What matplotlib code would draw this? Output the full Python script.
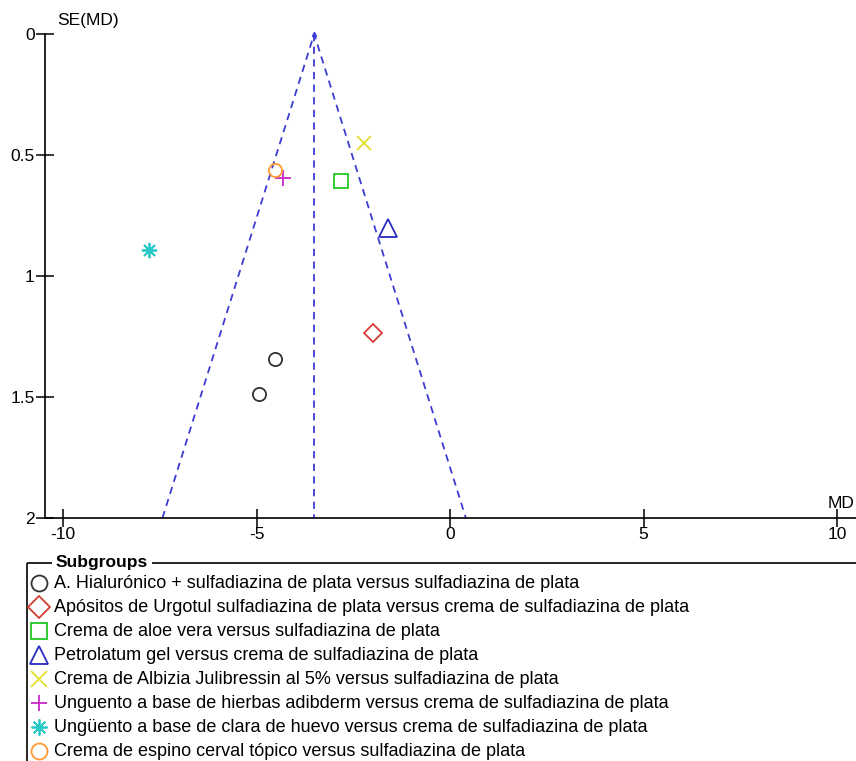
import matplotlib
matplotlib.use("Agg")
import matplotlib.pyplot as plt
from matplotlib.lines import Line2D
from matplotlib.patches import Rectangle

# ── study data: mean difference and its standard error ───────────────────────
groups = [
    "A. Hialurónico + sulfadiazina de plata versus sulfadiazina de plata",
    "Apósitos de Urgotul sulfadiazina de plata versus crema de sulfadiazina de plata",
    "Crema de aloe vera versus sulfadiazina de plata",
    "Petrolatum gel versus crema de sulfadiazina de plata",
    "Crema de Albizia Julibressin al 5% versus sulfadiazina de plata",
    "Unguento a base de hierbas adibderm versus crema de sulfadiazina de plata",
    "Ungüento a base de clara de huevo versus crema de sulfadiazina de plata",
    "Crema de espino cerval tópico versus sulfadiazina de plata",
]
md = [[-4.52, -4.94], [-1.99], [-2.82], [-1.60], [-2.22], [-4.32], [-7.78], [-4.52]]
se = [[1.343, 1.488], [1.236], [0.607], [0.80], [0.45], [0.595], [0.893], [0.562]]

pooled_md = -3.51
se_max = 2.0
x_ticks = [-10, -5, 0, 5, 10]
y_ticks = [0, 0.5, 1, 1.5, 2]
y_ticklabels = ["0", "0.5", "1", "1.5", "2"]

# ── styles ───────────────────────────────────────────────────────────────────
colors = ["#333333", "#D93A3A", "#22C822", "#2B2BC0",
          "#E0E030", "#C828C8", "#28C8C8", "#FF9933"]
markers = ["o", "D", "s", "^", "x", "+", (8, 2, 0), "o"]
msizes = [9.5, 9.5, 9.5, 12.5, 10.5, 11, 11, 9.5]
FUNNEL = "#3C3CD2"

plt.rcParams.update({
    "font.family": ["Liberation Sans", "DejaVu Sans"],
    "font.size": 12,
})

fig = plt.figure(figsize=(8.56, 7.61), dpi=100)
W, H = 856, 761

ax = fig.add_axes([45 / W, 1 - 518 / H, (W - 45) / W, (518 - 34) / H])
ax.set_xlim(-10.465, 10.49)
ax.set_ylim(se_max, 0)

# funnel (95% pseudo confidence limits) and pooled estimate
ax.plot([pooled_md - 1.96 * se_max, pooled_md, pooled_md + 1.96 * se_max],
        [se_max, 0, se_max], ls=(0, (4, 3)), color=FUNNEL, lw=1.3,
        clip_on=False)
ax.plot([pooled_md, pooled_md], [0, se_max], ls=(0, (4, 3)), color=FUNNEL,
        lw=1.3, clip_on=False)
ax.plot([pooled_md], [0], marker="^", ms=3, color=FUNNEL, clip_on=False)

for xs, ys, c, m, s in zip(md, se, colors, markers, msizes):
    ax.plot(xs, ys, ls="none", marker=m, ms=s, mfc="none", mec=c, mew=1.3,
            clip_on=False, zorder=3)

for side in ("top", "right"):
    ax.spines[side].set_visible(False)
ax.spines["left"].set_linewidth(1.2)
ax.spines["bottom"].set_linewidth(1.2)
ax.set_xticks(x_ticks)
ax.set_xticklabels([str(v) for v in x_ticks])
ax.set_yticks(y_ticks)
ax.set_yticklabels(y_ticklabels)
ax.tick_params(direction="inout", length=13, width=1.1, labelsize=12.5,
               colors="black")
ax.tick_params(axis="x", pad=0)
ax.tick_params(axis="y", pad=1)

ax.annotate("SE(MD)", xy=(0, 1), xycoords="axes fraction", xytext=(9, 4),
            textcoords="offset points", ha="left", va="bottom", fontsize=12.5)
ax.annotate("MD", xy=(10, se_max), xytext=(3, 5), textcoords="offset points",
            ha="center", va="bottom", fontsize=12.5)

# ── legend box with title set into its top border ────────────────────────────
lax = fig.add_axes([0, 0, 1, 1], zorder=-1)
lax.set_xlim(0, W)
lax.set_ylim(H, 0)
lax.axis("off")

lax.add_patch(Rectangle((27, 563), 900, 300, fill=False, ec="black", lw=1.2,
                        clip_on=False))
lax.text(56, 563, "Subgroups", fontsize=12.5, fontweight="bold", ha="left",
         va="center", bbox=dict(fc="white", ec="none", pad=3))

for i, (name, c, m) in enumerate(zip(groups, colors, markers)):
    y = 583 + 24 * i
    lax.add_line(Line2D([39], [y], ls="none", marker=m, ms=11.5 if m != "^" else 13,
                        mfc="none", mec=c, mew=1.3))
    lax.text(54, y, name, fontsize=13, ha="left", va="center")

fig.savefig("out.png", dpi=100)
